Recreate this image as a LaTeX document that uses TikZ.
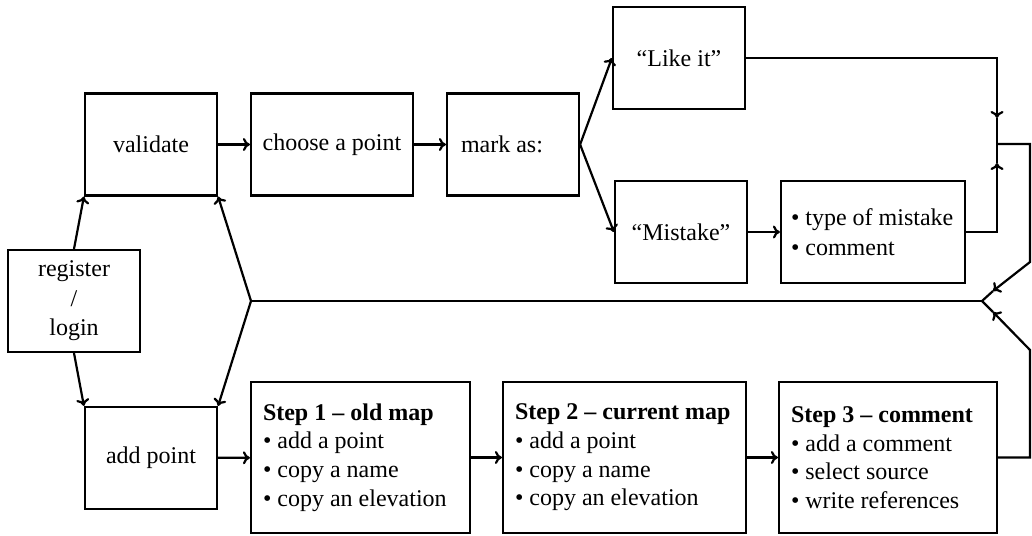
\documentclass[tikz,border=0pt]{standalone}
\usepackage{fontspec}
\setmainfont{Liberation Serif}
\usetikzlibrary{calc, arrows.meta}

\begin{document}
\begin{tikzpicture}[
	x=0.5pt, y=-0.5pt,
	box/.style={draw, line width=1.1pt, minimum width=66pt, minimum height=51pt, inner sep=2pt, align=center, font=\fontsize{12}{14.7}\selectfont},
	stepbox/.style={draw, line width=1.1pt, minimum height=75.5pt, inner xsep=6pt, align=flush left, font=\fontsize{12}{14.3}\selectfont},
	flow/.style={line width=1.1pt, -{To[length=3.5pt, width=6.5pt]}},
	wire/.style={line width=1.1pt}
	]
	\useasboundingbox (0,0) rectangle (1032,535);

	% left column
	\node[box] (reg) at (74,301) {register\\/\\login};
	\node[box] (val) at (151,144.5) {validate};
	\node[box] (add) at (151,458) {add point};

	% marking
	\node[box, minimum width=81pt] (choose) at (332,144.5) {choose a point};
	\node[box, inner xsep=7pt, text width=52pt, align=flush left] (mark) at (513,144.5) {mark as:};
	\node[box] (like) at (679,58) {“Like it”};
	\node[box] (mistake) at (681,232) {“Mistake”};
	\node[box, inner xsep=5pt, text width=82pt, align=flush left, font=\fontsize{12}{15}\selectfont] (type) at (873,232) {• type of mistake\\• comment};

	% adding
	\node[stepbox, text width=97.5pt] (step1) at (360.5,457.5) {\textbf{Step 1 – old map}\\• add a point\\• copy a name\\• copy an elevation};
	\node[stepbox, text width=109.5pt] (step2) at (624.5,457.5) {\textbf{Step 2 – current map}\\• add a point\\• copy a name\\• copy an elevation};
	\node[stepbox, text width=97pt] (step3) at (888,457.5) {\textbf{Step 3 – comment}\\• add a comment\\• select source\\• write references};

	\coordinate (fork) at (251,301);
	\coordinate (join) at (982,301);
	\coordinate (merge) at (997,144);
	\coordinate (likeIn) at (997,118);
	\coordinate (typeIn) at (997,163);
	\coordinate (upCorner) at (1030,144);
	\coordinate (upBend) at (1030,262);
	\coordinate (upIn) at (993,291);
	\coordinate (lowCorner) at (1030,457.5);
	\coordinate (lowBend) at (1030,350);
	\coordinate (lowIn) at (993,312);

	% from register
	\draw[flow] (reg.north) -- (val.south west);
	\draw[flow] (reg.south) -- (add.north west);
	\draw[wire] (join) -- (fork);
	\draw[flow] (fork) -- (val.south east);
	\draw[flow] (fork) -- (add.north east);

	\draw[flow] (val) -- (choose);
	\draw[flow] (choose) -- (mark);
	\draw[flow] (mark.east) -- (like.west);
	\draw[flow] (mark.east) -- (mistake.west);
	\draw[flow] (mistake) -- (type);

	\draw[flow] (add) -- (step1);
	\draw[flow] (step1) -- (step2);
	\draw[flow] (step2) -- (step3);

	% back to the start
	\draw[flow] (like.east) -| (likeIn);
	\draw[wire] (likeIn) -- (merge);
	\draw[flow] (type.east) -| (typeIn);
	\draw[wire] (typeIn) -- (merge);
	\draw[flow] (merge) -- (upCorner) -- (upBend) -- (upIn);
	\draw[wire] (upIn) -- (join);
	\draw[flow] (step3.east) -- (lowCorner) -- (lowBend) -- (lowIn);
	\draw[wire] (lowIn) -- (join);
\end{tikzpicture}
\end{document}
